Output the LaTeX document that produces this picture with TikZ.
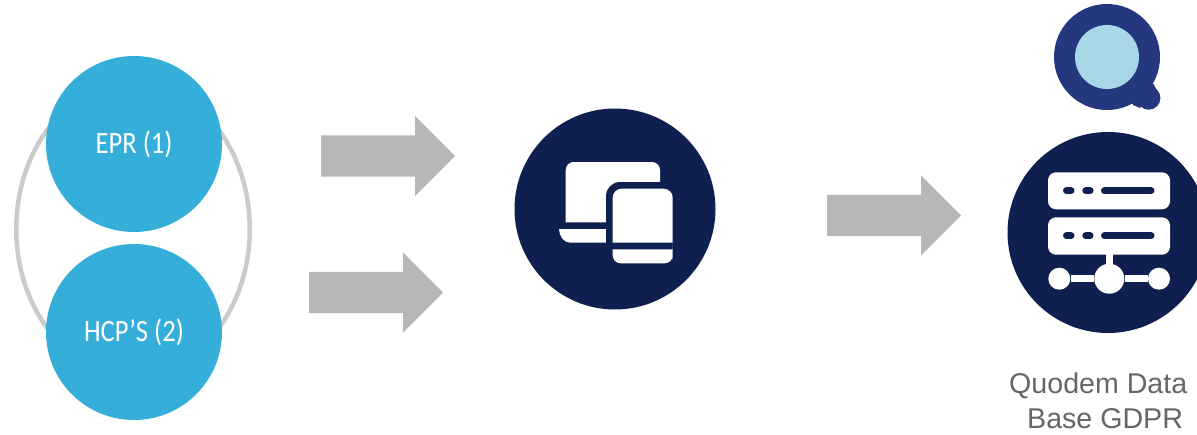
\documentclass[tikz,border=0pt]{standalone}
\usepackage{fontspec}
\usepackage{xcolor}
\usetikzlibrary{shapes.arrows,shapes.geometric}
\setmainfont{Liberation Sans}
\newfontfamily\circlefont[FakeStretch=0.86]{Carlito}
\definecolor{DeepNavy}{HTML}{0F1F4F}
\definecolor{SourceBlue}{HTML}{35AED9}
\definecolor{LogoBlue}{HTML}{24377F}
\definecolor{LogoLight}{HTML}{A8D8E8}
\definecolor{RingGray}{HTML}{CBCBCB}
\definecolor{ArrowGray}{HTML}{B7B7B7}
\definecolor{CaptionGray}{HTML}{666666}

\begin{document}
\begin{tikzpicture}[
	x=1pt, y=-1pt, % Work in pixels of the picture
	% Style for the two blue source circles
	source node/.style={
		circle,
		fill=SourceBlue,
		text=white,
		font=\circlefont\fontsize{31}{33}\selectfont,
		minimum size=176pt,
		inner sep=0pt
	},
	% Style for the dark icon circles
	icon node/.style={
		circle,
		fill=DeepNavy,
		minimum size=201pt,
		inner sep=0pt
	},
	% Style for the wide gray arrows
	flow arrow/.style={
		single arrow,
		shape border rotate=0,
		fill=ArrowGray,
		anchor=tail,
		inner sep=20.5pt,
		minimum height=134pt,
		single arrow head extend=19.5pt,
		single arrow tip angle=90
	},
	% Styles for the white icon parts
	icon part/.style={fill=white},
	icon gap/.style={fill=DeepNavy},
	rack mark/.style={
		draw=DeepNavy,
		line width=7pt,
		line cap=round
	},
	link/.style={
		draw=white,
		line width=6.5pt
	}
	]
	
	\clip (0, 0) rectangle (1197, 434);
	
	% 1. Ring behind the source circles
	\node[draw=RingGray, line width=4.5pt, ellipse, minimum width=233.5pt, minimum height=292pt, inner sep=0pt] (ring) at (133, 229) {};
	
	% Source circles
	\node[source node] (epr) at (134, 144) {\raisebox{-1pt}{EPR (1)}};
	\node[source node] (hcps) at (134, 332) {\raisebox{-1pt}{HCP’S (2)}};
	
	% 2. Arrows
	\node[flow arrow] (arrow_epr) at (321, 156) {};
	\node[flow arrow] (arrow_hcps) at (309, 292.5) {};
	\node[flow arrow] (arrow_base) at (827, 215.5) {};
	
	% 3. Device circle and its icon
	\node[icon node] (devices) at (615, 209) {};
	
	% Laptop
	\fill[icon part] (565.7, 222.3) [rounded corners=8pt] -- (565.7, 162) -- (660, 162) -- (660, 200) [sharp corners] -- (660, 222.3) -- cycle;
	\fill[icon part] (559, 229) -- (606, 229) -- (606, 242.7) -- (570, 242.7) .. controls (564, 242.7) and (559, 236) .. (559, 229) -- cycle;
	\fill[icon gap] (606, 243) [rounded corners=14pt] -- (606, 182) -- (680, 182) [sharp corners] -- (680, 243) -- cycle;
	% Tablet
	\fill[icon part] (612.7, 242.7) [rounded corners=9pt] -- (612.7, 188.7) -- (672.7, 188.7) -- (672.7, 225) [sharp corners] -- (672.7, 242.7) -- cycle;
	\fill[icon part] (612.7, 249.3) [rounded corners=8pt] -- (612.7, 263.3) -- (672.7, 263.3) -- (672.7, 252) [sharp corners] -- (672.7, 249.3) -- cycle;
	
	% 4. Data base circle and its icon
	\node[icon node] (database) at (1108, 232.5) {};
	
	% Racks
	\fill[icon part, rounded corners=8pt] (1048, 172.3) rectangle (1170, 209.3);
	\fill[icon part, rounded corners=8pt] (1048, 217.3) rectangle (1170, 254.7);
	\draw[rack mark] (1066.5, 190.8) -- (1071, 190.8);
	\draw[rack mark] (1085.8, 190.8) -- (1090, 190.8);
	\draw[rack mark] (1104.5, 190.8) -- (1151, 190.8);
	\draw[rack mark] (1066.5, 235.8) -- (1071, 235.8);
	\draw[rack mark] (1085.8, 235.8) -- (1090, 235.8);
	\draw[rack mark] (1104.5, 235.8) -- (1151, 235.8);
	
	% Network under the racks
	\node[fill=white, circle, minimum size=30pt, inner sep=0pt] (hub) at (1109.3, 278.7) {};
	\node[fill=white, circle, minimum size=22pt, inner sep=0pt] (hub_left) at (1059.3, 278.7) {};
	\node[fill=white, circle, minimum size=22pt, inner sep=0pt] (hub_right) at (1159, 278.7) {};
	\coordinate (rack_foot) at (1109.3, 254);
	\draw[link] (hub_left) -- (hub);
	\draw[link] (hub) -- (hub_right);
	\draw[link] (rack_foot) -- (hub);
	
	% 5. Logo above the data base
	\fill[LogoBlue] (1148.7, 98) circle (11.7);
	\fill[LogoBlue] (1125, 85) -- (1153.5, 84) -- (1156.5, 89.5) -- (1140, 108) -- (1133, 105) -- cycle;
	\node[circle, fill=LogoBlue, minimum size=106pt, inner sep=0pt] (logo) at (1107, 57) {};
	\node[circle, fill=LogoLight, minimum size=64pt, inner sep=0pt] (logo_eye) at (1107, 57) {};
	
	% 6. Caption
	\node[text=CaptionGray, font=\fontsize{28.6}{35.5}\selectfont, align=left, anchor=north west, inner sep=0pt] (caption) at (1009, 372.5) {Quodem Data\\\hspace*{18pt}Base GDPR};
	
\end{tikzpicture}
\end{document}
